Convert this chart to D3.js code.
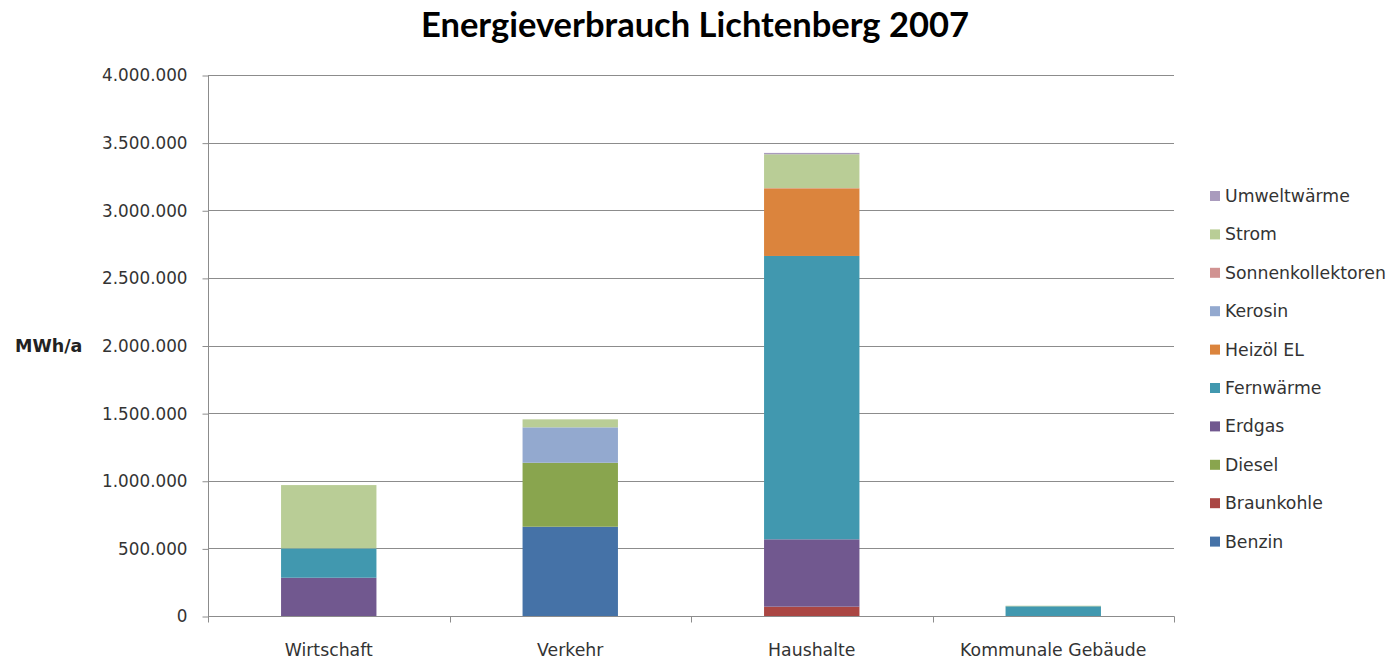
<!DOCTYPE html>
<html>
<head>
<meta charset="utf-8">
<script src="https://cdn.jsdelivr.net/npm/d3@7"></script>
<style>
  body { margin: 0; background: #fff; }
  svg text { fill: #333; }
</style>
</head>
<body>
<div id="chart"></div>
<script>
// Daten (MWh/a), aus der Grafik geschätzt
var categories = ["Wirtschaft", "Verkehr", "Haushalte", "Kommunale Gebäude"];
var carriers = ["Benzin", "Braunkohle", "Diesel", "Erdgas", "Fernwärme",
                "Heizöl EL", "Kerosin", "Sonnenkollektoren", "Strom", "Umweltwärme"];
var benzin            = [0, 660000, 0, 0];
var braunkohle        = [0, 0, 69000, 0];
var diesel            = [0, 473000, 0, 0];
var erdgas            = [283000, 0, 498000, 0];
var fernwaerme        = [217000, 0, 2095000, 72000];
var heizoel           = [0, 0, 500000, 0];
var kerosin           = [0, 262000, 0, 0];
var sonnenkollektoren = [0, 0, 2000, 0];
var strom             = [468000, 59000, 250000, 4000];
var umweltwaerme      = [0, 0, 10000, 0];
var yTicks = [0, 500000, 1000000, 1500000, 2000000, 2500000, 3000000, 3500000, 4000000];
var colors = ["#4572A7", "#AA4643", "#89A54E", "#71588F", "#4198AF",
              "#DB843D", "#93A9CF", "#D19392", "#B9CD96", "#A99BBD"];

var series = [benzin, braunkohle, diesel, erdgas, fernwaerme,
              heizoel, kerosin, sonnenkollektoren, strom, umweltwaerme];

var rows = categories.map(function(c, i) {
    var r = {cat: c};
    carriers.forEach(function(k, j) { r[k] = series[j][i]; });
    return r;
});

var W = 1392, H = 659;
var pLeft = 208, pRight = 1174, pTop = 75, pBottom = 616;

var svg = d3.select("#chart").append("svg")
    .attr("width", W).attr("height", H);

var x = d3.scaleBand().domain(categories).range([pLeft, pRight]).paddingInner(0.605).paddingOuter(0.3025);
var y = d3.scaleLinear().domain([0, 4000000]).range([pBottom, pTop]);
var color = d3.scaleOrdinal().domain(carriers).range(colors);

// Gitternetz
svg.append("g").selectAll("line")
    .data(yTicks.slice(1))
    .enter().append("line")
    .attr("x1", pLeft).attr("x2", pRight)
    .attr("y1", function(d) { return Math.round(y(d)) + 0.5; })
    .attr("y2", function(d) { return Math.round(y(d)) + 0.5; })
    .attr("stroke", "#8c8c8c").attr("stroke-width", 1);

var fmt = function(d) { return d3.format(",")(d).replace(/,/g, "."); };

var yAxis = svg.append("g")
    .attr("transform", "translate(" + (pLeft + 0.5) + ",0.5)")
    .call(d3.axisLeft(y).tickValues(yTicks).tickFormat(fmt).tickSize(6).tickPadding(15));
yAxis.select(".domain").remove();
yAxis.append("line").attr("y1", pTop).attr("y2", pBottom).attr("stroke", "#8c8c8c");
yAxis.selectAll("line").attr("stroke", "#8c8c8c");
yAxis.selectAll("text").attr("font-family", "DejaVu Sans").attr("font-size", 16.8).attr("fill", "#333");

var stack = d3.stack().keys(carriers);
var layers = stack(rows);

svg.append("g").selectAll("g")
    .data(layers)
    .enter().append("g")
    .attr("fill", function(d) { return color(d.key); })
    .selectAll("rect")
    .data(function(d) { return d; })
    .enter().append("rect")
    .attr("x", function(d) { return x(d.data.cat); })
    .attr("width", x.bandwidth())
    .attr("y", function(d) { return y(d[1]); })
    .attr("height", function(d) { return y(d[0]) - y(d[1]); });

// x-Achse mit Teilstrichen an den Kategoriegrenzen
var xAxis = svg.append("g").attr("transform", "translate(0," + (pBottom + 0.5) + ")");
xAxis.append("line").attr("x1", pLeft).attr("x2", pRight + 0.5).attr("stroke", "#8c8c8c");
xAxis.selectAll("line.tick")
    .data(d3.range(categories.length + 1))
    .enter().append("line")
    .attr("class", "tick")
    .attr("x1", function(i) { return Math.round(pLeft + i * x.step()) + 0.5; })
    .attr("x2", function(i) { return Math.round(pLeft + i * x.step()) + 0.5; })
    .attr("y1", 0).attr("y2", 6)
    .attr("stroke", "#8c8c8c");
xAxis.selectAll("text")
    .data(categories)
    .enter().append("text")
    .attr("x", function(d) { return x(d) + x.bandwidth() / 2; })
    .attr("y", 39.5)
    .attr("text-anchor", "middle")
    .attr("font-family", "DejaVu Sans").attr("font-size", 17.3)
    .text(function(d) { return d; });

// Titel
svg.append("text")
    .attr("x", 695).attr("y", 37)
    .attr("text-anchor", "middle")
    .attr("font-family", "Lato").attr("font-weight", "bold").attr("font-size", 34.5)
    .style("fill", "#000")
    .text("Energieverbrauch Lichtenberg 2007");

svg.append("text")
    .attr("x", 15).attr("y", 352)
    .attr("font-family", "DejaVu Sans").attr("font-weight", "bold").attr("font-size", 17.5)
    .style("fill", "#222")
    .text("MWh/a");

// Legende
var legend = svg.append("g").selectAll("g")
    .data(carriers.slice().reverse())
    .enter().append("g")
    .attr("transform", function(d, i) { return "translate(1210," + (196 + i * 38.4) + ")"; });
legend.append("rect")
    .attr("x", 0).attr("y", -5).attr("width", 10).attr("height", 10)
    .attr("fill", function(d) { return color(d); });
legend.append("text")
    .attr("x", 15).attr("y", 6)
    .attr("font-family", "DejaVu Sans").attr("font-size", 17.3)
    .text(function(d) { return d; });
</script>
</body>
</html>
